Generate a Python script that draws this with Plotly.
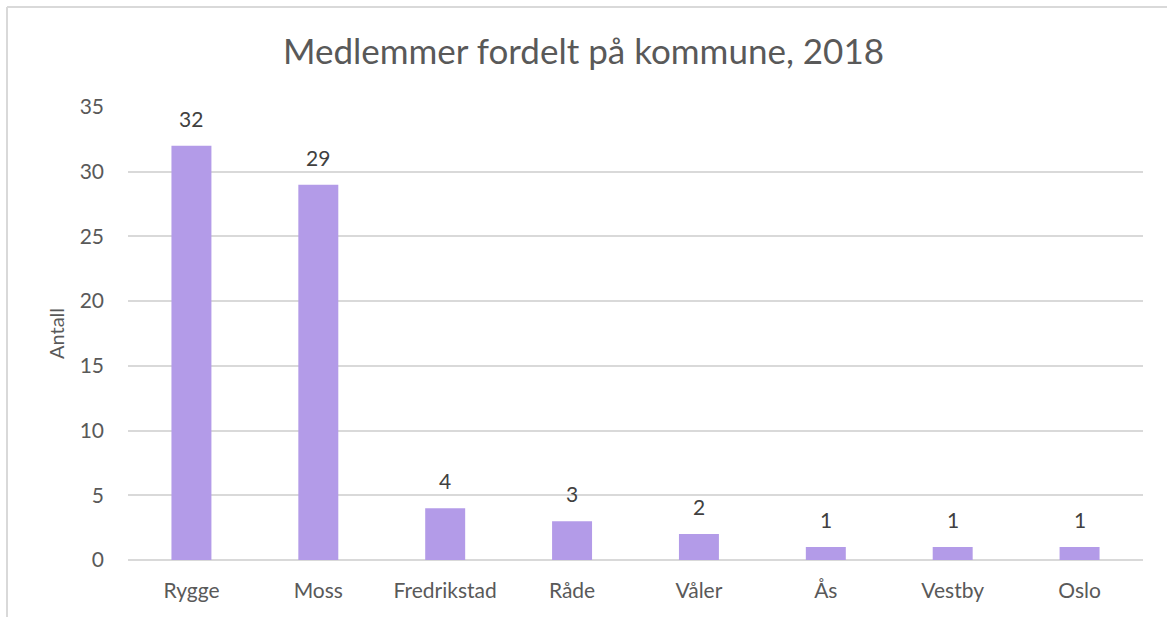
import plotly.graph_objects as go

kommuner = ["Rygge", "Moss", "Fredrikstad", "Råde", "Våler", "Ås", "Vestby", "Oslo"]
antall = [32, 29, 4, 3, 2, 1, 1, 1]
y_ticks = [0, 5, 10, 15, 20, 25, 30, 35]

FONT = "Lato, Open Sans, sans-serif"
TXT = "#595959"
LBL = "#404040"
GRID = "#D9D9D9"

fig = go.Figure(go.Bar(
    x=kommuner, y=antall,
    marker=dict(color="#B39BE8", line=dict(width=0)),
    width=0.315,
    cliponaxis=False,
))

# data labels above the bars
for k, v in zip(kommuner, antall):
    fig.add_annotation(x=k, y=v, text=str(v), showarrow=False,
                       xanchor="center", yanchor="bottom", yshift=13,
                       font=dict(family=FONT, size=21, color=LBL))

fig.update_layout(
    width=1167, height=617,
    margin=dict(l=128, r=24, t=107, b=57),
    paper_bgcolor="white", plot_bgcolor="white",
    title=dict(text="Medlemmer fordelt på kommune, 2018",
               font=dict(family=FONT, size=35, color=TXT),
               x=0.5, xanchor="center", y=1 - 52/617, yanchor="middle"),
    showlegend=False,
    font=dict(family=FONT, color=TXT),
)
fig.update_xaxes(
    showgrid=False, showline=False, zeroline=False, ticks="",
    tickfont=dict(family=FONT, size=21, color=TXT),
    ticklabelstandoff=16,
)
fig.update_yaxes(
    range=[0, 35], tickvals=y_ticks, showgrid=True, gridcolor=GRID, gridwidth=1.5,
    zeroline=True, zerolinecolor=GRID, zerolinewidth=1.5, showline=False, ticks="",
    tickfont=dict(family=FONT, size=21, color=TXT),
    ticklabelstandoff=23,
    title=dict(text="Antall", font=dict(family=FONT, size=20, color=TXT), standoff=9),
)
# chart frame (top and left edges visible in the reference)
fx = (7 - 128) / 1015
fy = 1 + (107 - 7) / 453
fig.add_shape(type="line", xref="paper", yref="paper",
              x0=fx, x1=fx, y0=-0.3, y1=fy, line=dict(color=GRID, width=2))
fig.add_shape(type="line", xref="paper", yref="paper",
              x0=fx, x1=1.1, y0=fy, y1=fy, line=dict(color=GRID, width=2))

fig.write_html("out.html", config={"displayModeBar": False},
               post_script="document.body.style.margin='0';")
